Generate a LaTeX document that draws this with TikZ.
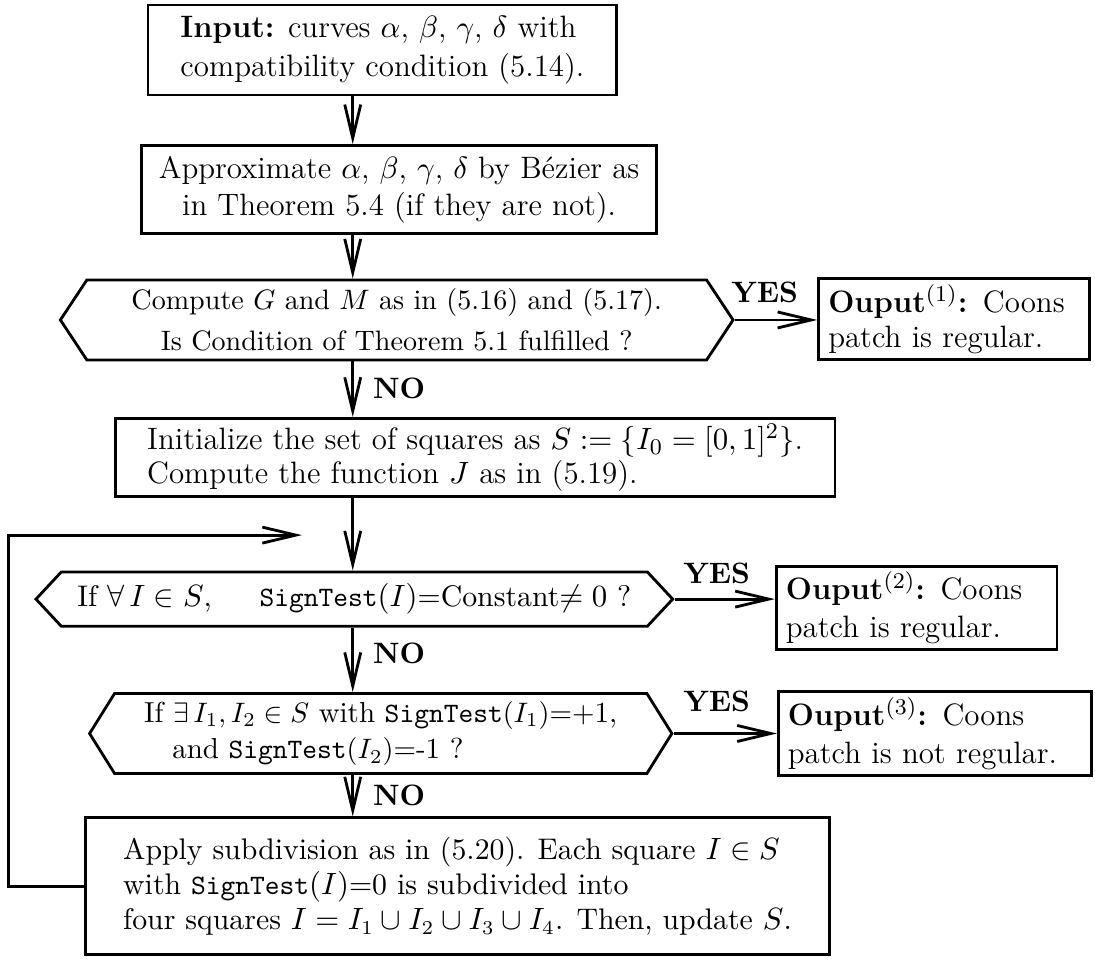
\documentclass[tikz,border=0pt]{standalone}
\usepackage{amsmath}
\usetikzlibrary{arrows.meta,shapes.symbols}

\newcommand{\signtest}{{\fontsize{10pt}{12pt}\selectfont\texttt{SignTest}}}

\begin{document}
\begin{tikzpicture}[
    box/.style={draw, line width=1pt, inner sep=2pt},
    hexa/.style={box, shape=signal, signal to=east and west},
    outbox/.style={box, inner xsep=0.12cm, align=left},
    lbl/.style={font=\fontsize{10.5}{12}\selectfont\bfseries},
    arr/.style={line width=1pt, -{Straight Barb[length=4.2mm,width=2mm,line width=1pt]}},
  ]
  \useasboundingbox (0,0) rectangle (13.69,-12);
  \coordinate (axis) at (4.41,0);

  %1
  \node[box, minimum width=5.86cm, minimum height=1.125cm, align=left,
    font=\fontsize{11}{14}\selectfont] (input) at (4.78,-0.625)
    {\textbf{Input:} curves $\alpha$, $\beta$, $\gamma$, $\delta$ with\\
     compatibility condition (5.14).};

  \node[box, minimum width=6.44cm, minimum height=1.1cm, align=center,
    font=\fontsize{11}{13}\selectfont] (approx) at (4.99,-2.37)
    {Approximate $\alpha$, $\beta$, $\gamma$, $\delta$ by B\'ezier as\\
     in Theorem 5.4 (if they are not).};

  \draw[arr] (input.south -| axis) -- (approx.north -| axis);

  %2
  \node[hexa, signal pointer angle=113, minimum width=8.41cm, minimum height=1cm,
    align=center, font=\fontsize{10}{14.5}\selectfont] (test1) at (4.96,-4.0)
    {Compute $G$ and $M$ as in (5.16) and (5.17).\\
     Is Condition of Theorem 5.1 fulfilled ?};

  \node[outbox, text width=3.15cm, minimum height=0.975cm,
    font=\fontsize{11}{12.5}\selectfont] (out1) at (11.93,-3.99)
    {\textbf{Ouput}$^{(1)}$\textbf{:} Coons\\ patch is regular.};

  \draw[arr] (approx.south -| axis) -- (test1.north -| axis);
  \draw[arr] (test1.east) -- (out1.west |- test1.east);
  \node[lbl] (yes1) at (9.56,-3.65) {YES};

  %3
  \node[box, minimum width=9cm, minimum height=0.8625cm, align=left,
    font=\fontsize{11}{9.8}\selectfont] (init) at (5.94,-5.72)
    {Initialize the set of squares as $S:=\{I_0=[0,1]^2\}$.\\
     Compute the function $J$ as in (5.19).};

  \draw[arr] (test1.south -| axis) -- (init.north -| axis);
  \node[lbl] (no1) at (4.99,-4.86) {NO};

  %4
  \node[hexa, signal pointer angle=94, minimum width=7.96cm, minimum height=0.68cm,
    align=left, font=\fontsize{10.6}{12}\selectfont] (test2) at (4.43,-7.49)
    {If $\forall\, I\in S$,\hspace{1.6em}\signtest$(I)$=Constant$\neq 0$ ?};

  \node[outbox, text width=3.27cm, minimum height=1.04cm,
    font=\fontsize{11}{13.5}\selectfont] (out2) at (11.46,-7.6)
    {\textbf{Ouput}$^{(2)}$\textbf{:} Coons\\ patch is regular.};

  \draw[arr] (init.south -| axis) -- (test2.north -| axis);
  \draw[arr] (test2.east) -- (out2.west |- test2.east);
  \node[lbl] (yes2) at (8.96,-7.17) {YES};

  %5
  \node[hexa, signal pointer angle=116, minimum width=7.28cm, minimum height=1cm,
    align=left, font=\fontsize{10.3}{13}\selectfont] (test3) at (4.76,-9.17)
    {If $\exists\, I_1, I_2\in S$ with \signtest$(I_1)$=+1,\\
     \hspace*{10pt}and \signtest$(I_2)$=-1 ?};

  \node[outbox, text width=3.68cm, minimum height=1.06cm,
    font=\fontsize{11}{13.5}\selectfont] (out3) at (11.69,-9.17)
    {\textbf{Ouput}$^{(3)}$\textbf{:} Coons\\ patch is not regular.};

  \draw[arr] (test2.south -| axis) -- (test3.north -| axis);
  \draw[arr] (test3.east) -- (out3.west |- test3.east);
  \node[lbl] (no2) at (4.99,-8.17) {NO};
  \node[lbl] (yes3) at (8.96,-8.77) {YES};

  %6
  \node[box, minimum width=9.31cm, minimum height=1.71cm, align=left,
    font=\fontsize{10.6}{12.6}\selectfont] (subdiv) at (5.72,-11.08)
    {Apply subdivision as in (5.20). Each square $I\in S$\\
     with \signtest$(I)$=0 is subdivided into\\
     four squares $I=I_1\cup I_2\cup I_3\cup I_4$. Then, update $S$.};

  \draw[arr] (test3.south -| axis) -- (subdiv.north -| axis);
  \node[lbl] (no3) at (4.99,-9.94) {NO};

  % loop back
  \coordinate (back) at (3.775,-6.69);
  \draw[arr] (subdiv.west) -- ++(-0.94,0) |- (back);

\end{tikzpicture}
\end{document}
